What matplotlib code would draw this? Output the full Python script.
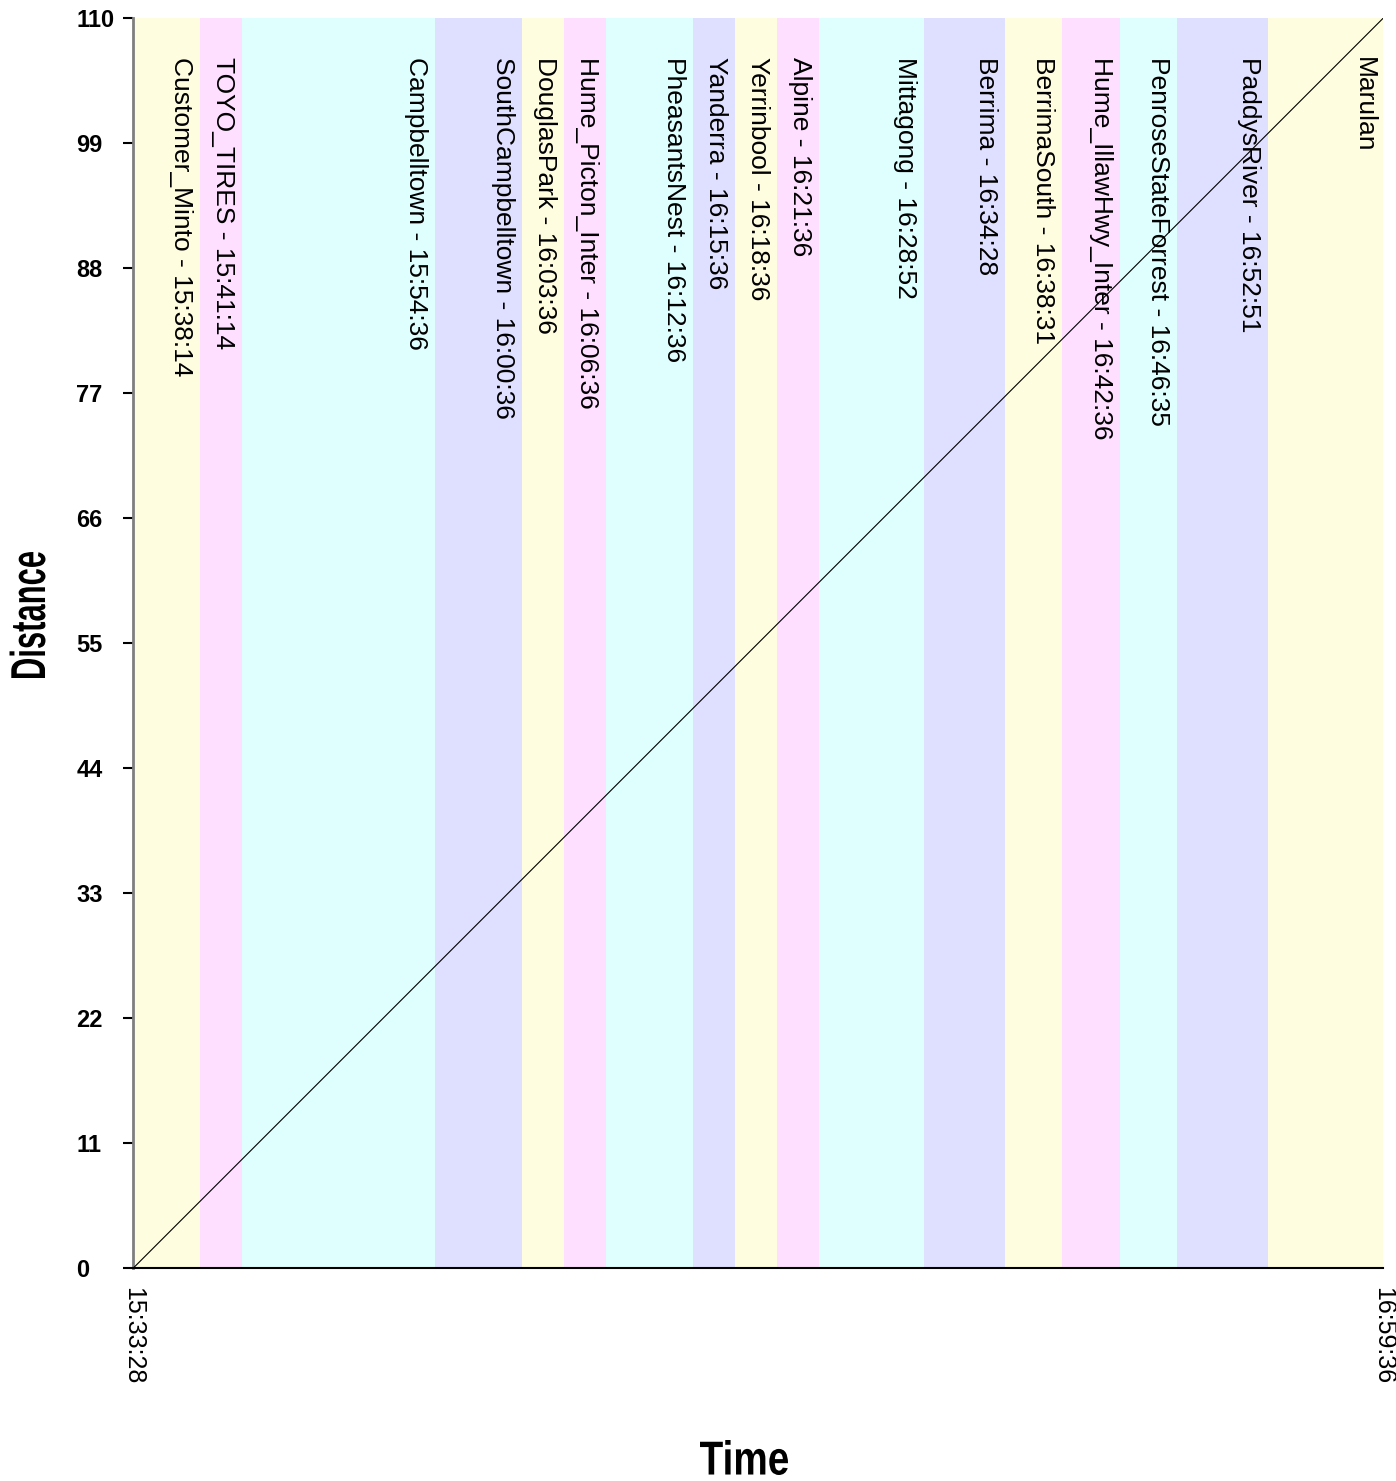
import matplotlib
matplotlib.use("Agg")
import matplotlib.pyplot as plt
from matplotlib.textpath import TextPath
from matplotlib.patches import PathPatch
from matplotlib.font_manager import FontProperties
from matplotlib.transforms import Affine2D

# stations along the route, with the time shown next to each name
stations = ["Customer_Minto", "TOYO_TIRES", "Campbelltown", "SouthCampbelltown",
            "DouglasPark", "Hume_Picton_Inter", "PheasantsNest", "Yanderra",
            "Yerrinbool", "Alpine", "Mittagong", "Berrima", "BerrimaSouth",
            "Hume_IllawHwy_Inter", "PenroseStateForrest", "PaddysRiver", "Marulan"]
station_times = ["15:38:14", "15:41:14", "15:54:36", "16:00:36", "16:03:36",
                 "16:06:36", "16:12:36", "16:15:36", "16:18:36", "16:21:36",
                 "16:28:52", "16:34:28", "16:38:31", "16:42:36", "16:46:35",
                 "16:52:51", ""]
# right edge of each coloured band
band_ends = ["15:38:04", "15:40:56", "15:54:15", "16:00:16", "16:03:09",
             "16:06:01", "16:12:03", "16:14:56", "16:17:49", "16:20:43",
             "16:27:57", "16:33:32", "16:37:29", "16:41:27", "16:45:24",
             "16:51:39", "16:59:36"]
band_colors = ["#FFFDDF", "#FFDFFF", "#DFFFFF", "#DFDFFF"]

start_time = "15:33:28"
end_time = "16:59:36"
trip_times = [start_time, end_time]
trip_distance = [0, 110]
y_ticks = [0, 11, 22, 33, 44, 55, 66, 77, 88, 99, 110]

FIG_W, FIG_H = 1396, 1481


def to_sec(s):
    h, m, sec = s.split(":")
    return int(h) * 3600 + int(m) * 60 + int(sec)


def squeezed_title(fig, s, cx, cy, w, h, rot):
    # bold text squeezed into a w x h pixel box, centred at (cx, cy) from top-left
    fp = FontProperties(family="Liberation Sans", weight="bold")
    tp = TextPath((0, 0), s, size=50, prop=fp)
    bb = tp.get_extents()
    tr = (Affine2D()
          .translate(-(bb.x0 + bb.x1) / 2, -(bb.y0 + bb.y1) / 2)
          .scale(w / bb.width, h / bb.height)
          .rotate_deg(rot)
          .translate(cx, FIG_H - cy))
    patch = PathPatch(tp, transform=tr, facecolor="black", edgecolor="none")
    fig.add_artist(patch)


fig = plt.figure(figsize=(FIG_W / 100, FIG_H / 100), dpi=100)
ax = fig.add_axes([0.0955, 0.1438, 0.8954, 0.844])

t0 = to_sec(start_time)
t1 = to_sec(end_time)

# coloured bands
left = t0
for i, name in enumerate(stations):
    right = to_sec(band_ends[i])
    ax.axvspan(left, right, color=band_colors[i % 4], lw=0, zorder=0)
    label = name if station_times[i] == "" else name + " - " + station_times[i]
    ax.annotate(label, xy=(right, 1), xycoords=("data", "axes fraction"),
                xytext=(-5, -28), textcoords="offset points",
                rotation=-90, ha="right", va="top", fontsize=19,
                family=["Liberation Sans", "DejaVu Sans"], zorder=2)
    left = right

ax.plot([to_sec(t) for t in trip_times], trip_distance, color="black", lw=0.8, zorder=3)

ax.set_xlim(t0, t1)
ax.set_ylim(0, 110)
ax.set_xticks([t0, t1])
ax.set_xticklabels([start_time, end_time], rotation=-90, fontsize=18,
                   family=["Liberation Sans", "DejaVu Sans"], va="top")
ax.set_yticks(y_ticks)
ax.set_yticklabels([str(v) for v in y_ticks], fontsize=17, fontweight="bold",
                   family=["Liberation Sans", "DejaVu Sans"])
for lab in ax.get_yticklabels():
    lab.set_ha("left")

ax.tick_params(axis="x", length=0, pad=14)
ax.tick_params(axis="y", length=7.2, width=1.5, pad=33.8, direction="out")

ax.spines["top"].set_visible(False)
ax.spines["right"].set_visible(False)
ax.spines["left"].set_color("#7f7f7f")
ax.spines["left"].set_linewidth(2)
ax.spines["bottom"].set_color("black")
ax.spines["bottom"].set_linewidth(1.5)

squeezed_title(fig, "Distance", 27.5, 615, 126, 36, 90)
squeezed_title(fig, "Time", 744, 1457.5, 88, 35, 0)

fig.savefig("out.png", dpi=100)
